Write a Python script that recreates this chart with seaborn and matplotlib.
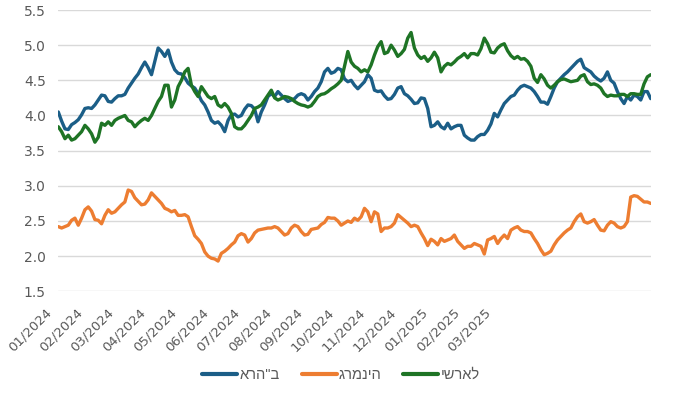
import numpy as np
import pandas as pd
import matplotlib
matplotlib.use("Agg")
import matplotlib.pyplot as plt
import matplotlib.transforms as mtransforms
from matplotlib.lines import Line2D
import seaborn as sns

# ---------------- data ----------------
us = [4.05, 3.92, 3.81, 3.80, 3.87, 3.90, 3.94, 4.01, 4.10, 4.11,
      4.10, 4.15, 4.22, 4.29, 4.28, 4.20, 4.19, 4.24, 4.28, 4.28,
      4.30, 4.39, 4.46, 4.53, 4.59, 4.68, 4.76, 4.68, 4.58, 4.77,
      4.96, 4.91, 4.84, 4.93, 4.76, 4.65, 4.60, 4.59, 4.54, 4.46,
      4.42, 4.39, 4.31, 4.21, 4.15, 4.05, 3.93, 3.89, 3.91, 3.86,
      3.77, 3.93, 4.01, 4.02, 3.98, 4.00, 4.09, 4.15, 4.14, 4.09,
      3.91, 4.05, 4.15, 4.27, 4.31, 4.27, 4.34, 4.29, 4.24, 4.20,
      4.22, 4.24, 4.29, 4.31, 4.29, 4.22, 4.27, 4.34, 4.39, 4.48,
      4.62, 4.67, 4.60, 4.62, 4.67, 4.65, 4.52, 4.48, 4.50, 4.43,
      4.38, 4.43, 4.48, 4.58, 4.53, 4.36, 4.34, 4.35, 4.28, 4.23,
      4.24, 4.30, 4.39, 4.41, 4.31, 4.28, 4.23, 4.17, 4.18, 4.25,
      4.24, 4.10, 3.84, 3.86, 3.91, 3.84, 3.81, 3.89, 3.81, 3.84,
      3.86, 3.86, 3.72, 3.68, 3.65, 3.65, 3.70, 3.73, 3.73, 3.79,
      3.88, 4.03, 3.98, 4.08, 4.17, 4.22, 4.27, 4.29, 4.36, 4.41,
      4.43, 4.41, 4.39, 4.34, 4.27, 4.19, 4.19, 4.16, 4.27, 4.39,
      4.48, 4.53, 4.58, 4.62, 4.67, 4.72, 4.77, 4.80, 4.68, 4.65,
      4.62, 4.56, 4.52, 4.49, 4.53, 4.62, 4.50, 4.46, 4.34, 4.24,
      4.17, 4.27, 4.22, 4.29, 4.27, 4.22, 4.34, 4.34, 4.24]

germany = [2.42, 2.40, 2.42, 2.44, 2.51, 2.54, 2.44, 2.54, 2.66, 2.70,
           2.64, 2.52, 2.51, 2.46, 2.58, 2.66, 2.61, 2.63, 2.68, 2.73,
           2.77, 2.94, 2.92, 2.83, 2.78, 2.73, 2.74, 2.80, 2.90, 2.85,
           2.80, 2.75, 2.68, 2.66, 2.63, 2.65, 2.58, 2.58, 2.59, 2.56,
           2.42, 2.29, 2.24, 2.18, 2.06, 2.00, 1.97, 1.96, 1.93, 2.04,
           2.07, 2.11, 2.16, 2.20, 2.29, 2.32, 2.30, 2.20, 2.25, 2.33,
           2.37, 2.38, 2.39, 2.40, 2.40, 2.42, 2.40, 2.35, 2.30, 2.32,
           2.40, 2.44, 2.42, 2.35, 2.30, 2.31, 2.38, 2.39, 2.40, 2.45,
           2.48, 2.55, 2.54, 2.54, 2.50, 2.44, 2.47, 2.50, 2.48, 2.54,
           2.51, 2.56, 2.68, 2.63, 2.49, 2.63, 2.60, 2.35, 2.40, 2.40,
           2.42, 2.47, 2.59, 2.55, 2.51, 2.47, 2.42, 2.44, 2.42, 2.33,
           2.25, 2.15, 2.24, 2.21, 2.16, 2.25, 2.21, 2.23, 2.25, 2.30,
           2.21, 2.16, 2.11, 2.14, 2.14, 2.18, 2.16, 2.14, 2.03, 2.23,
           2.25, 2.28, 2.18, 2.25, 2.30, 2.25, 2.37, 2.40, 2.42, 2.37,
           2.35, 2.35, 2.33, 2.25, 2.18, 2.09, 2.02, 2.04, 2.07, 2.16,
           2.23, 2.28, 2.33, 2.37, 2.40, 2.49, 2.56, 2.60, 2.49, 2.47,
           2.49, 2.52, 2.44, 2.37, 2.36, 2.44, 2.49, 2.47, 2.42, 2.40,
           2.42, 2.49, 2.84, 2.86, 2.85, 2.81, 2.77, 2.77, 2.75]

israel = [3.84, 3.77, 3.67, 3.72, 3.65, 3.67, 3.72, 3.77, 3.86, 3.81,
          3.74, 3.62, 3.69, 3.89, 3.86, 3.91, 3.86, 3.93, 3.96, 3.98,
          4.00, 3.93, 3.91, 3.84, 3.89, 3.93, 3.96, 3.93, 4.00, 4.10,
          4.20, 4.27, 4.43, 4.43, 4.12, 4.22, 4.41, 4.50, 4.62, 4.67,
          4.43, 4.34, 4.27, 4.41, 4.34, 4.27, 4.24, 4.27, 4.15, 4.12,
          4.17, 4.12, 4.03, 3.84, 3.81, 3.81, 3.86, 3.93, 4.00, 4.10,
          4.12, 4.15, 4.22, 4.29, 4.36, 4.25, 4.22, 4.24, 4.27, 4.26,
          4.24, 4.20, 4.17, 4.15, 4.14, 4.12, 4.14, 4.20, 4.27, 4.30,
          4.31, 4.34, 4.38, 4.41, 4.45, 4.50, 4.70, 4.91, 4.76, 4.70,
          4.67, 4.62, 4.65, 4.62, 4.72, 4.86, 4.98, 5.05, 4.88, 4.90,
          5.00, 4.93, 4.84, 4.88, 4.94, 5.10, 5.18, 4.96, 4.86, 4.81,
          4.84, 4.77, 4.82, 4.90, 4.82, 4.62, 4.70, 4.74, 4.72, 4.76,
          4.81, 4.84, 4.88, 4.82, 4.88, 4.88, 4.86, 4.95, 5.10, 5.02,
          4.90, 4.89, 4.96, 5.00, 5.02, 4.92, 4.85, 4.81, 4.84, 4.80,
          4.81, 4.77, 4.70, 4.53, 4.47, 4.58, 4.52, 4.43, 4.39, 4.43,
          4.48, 4.51, 4.52, 4.50, 4.48, 4.49, 4.50, 4.56, 4.58, 4.48,
          4.44, 4.45, 4.43, 4.39, 4.31, 4.27, 4.29, 4.28, 4.28, 4.30,
          4.30, 4.27, 4.31, 4.31, 4.30, 4.30, 4.45, 4.55, 4.58]

series_names = ['ארה"ב', 'גרמניה', 'ישראל']
x_tick_labels = ['01/2024', '02/2024', '03/2024', '04/2024', '05/2024',
                 '06/2024', '07/2024', '08/2024', '09/2024', '10/2024',
                 '11/2024', '12/2024', '01/2025', '02/2025', '03/2025']
y_ticks = [1.5, 2.0, 2.5, 3.0, 3.5, 4.0, 4.5, 5.0, 5.5]

# observations between two consecutive axis labels
obs_per_label = 9.43

colors = {'ארה"ב': '#1B5E87', 'גרמניה': '#ED7D31', 'ישראל': '#1E7425'}

# ---------------- build long table ----------------
n = len(us)
obs = np.arange(n)
df = pd.DataFrame({
    'obs': np.concatenate([obs, obs, obs]),
    'value': us + germany + israel,
    'country': np.repeat(series_names, n),
})

sns.set_theme(style='white')
plt.rcParams['font.family'] = ['DejaVu Sans']

W, H = 676, 393
fig = plt.figure(figsize=(W / 100, H / 100), dpi=100)
left, right, top, bottom = 58.3, 650.7, 10.0, 291.3
ax = fig.add_axes([left / W, 1 - bottom / H, (right - left) / W, (bottom - top) / H])

sns.lineplot(data=df, x='obs', y='value', hue='country', hue_order=series_names,
             palette=colors, linewidth=2.4, ax=ax, legend=False, sort=False)

ax.set_xlim(0, n - 1)
ax.set_ylim(1.5, 5.5)
ax.set_xlabel('')
ax.set_ylabel('')

for s in ax.spines.values():
    s.set_visible(False)

ax.set_yticks(y_ticks)
ax.set_yticklabels([f'{v:.1f}' for v in y_ticks])
ax.yaxis.grid(True, color='#D9D9D9', linewidth=1.0)
ax.xaxis.grid(False)
ax.set_axisbelow(True)
ax.tick_params(axis='y', length=0, pad=9, labelsize=10, labelcolor='#595959')

xt = np.arange(len(x_tick_labels)) * obs_per_label
ax.set_xticks(xt)
ax.set_xticklabels(x_tick_labels, rotation=45, ha='right', va='center',
                   rotation_mode='anchor')
ax.tick_params(axis='x', length=0, pad=14, labelsize=9.5, labelcolor='#595959')
shift = mtransforms.ScaledTranslation(-9 / 100, 0, fig.dpi_scale_trans)
for lab in ax.get_xticklabels():
    lab.set_transform(lab.get_transform() + shift)

# legend
handles = [Line2D([0], [0], color=colors[nm], linewidth=3) for nm in series_names]
fig.legend(handles, series_names, loc='center', bbox_to_anchor=(341 / W, 1 - 375 / H),
           ncol=3, frameon=False, handlelength=2.4, handletextpad=0.15,
           columnspacing=1.5, prop={'family': ['Liberation Sans', 'DejaVu Sans'], 'size': 10.5},
           labelcolor='#595959')

fig.savefig('out.png', dpi=100)
